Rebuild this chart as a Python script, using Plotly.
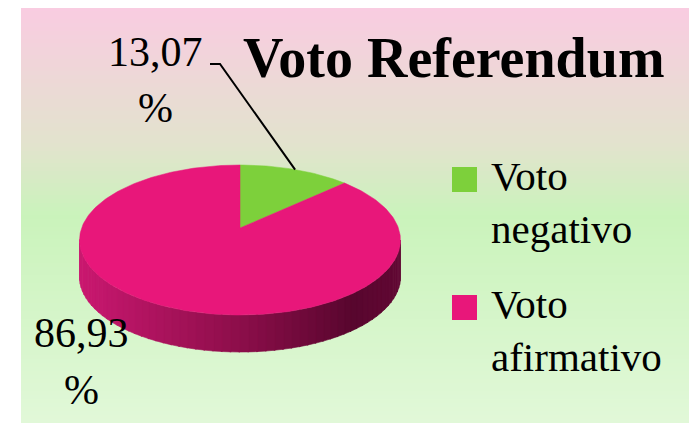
import math
import plotly.graph_objects as go

# ---- data ----
categories = ["Voto negativo", "Voto afirmativo"]
values = [13.07, 86.93]
colors = ["#7DD03B", "#E8177A"]
title_text = "Voto Referendum"

W, H_PX = 697, 423
OFF = 8  # page body margin
FONT = "'Liberation Serif', 'Times New Roman', Times, serif"

# pie geometry (pixels) with simple perspective
CX, CY = 240.0, 228.0
R, HH, K = 158.4, 73.1, 0.16
DEPTH = 37.0


def proj(deg, drop=0.0):
    t = math.radians(deg)
    s = 1.0 / (1.0 + K * math.cos(t))
    return CX + R * math.sin(t) * s, CY - HH * math.cos(t) * s + drop


def lerp_color(stops, t):
    t = max(0.0, min(1.0, t))
    for (t0, c0), (t1, c1) in zip(stops, stops[1:]):
        if t <= t1:
            f = (t - t0) / (t1 - t0) if t1 > t0 else 0
            c = [round(a + (b - a) * f) for a, b in zip(c0, c1)]
            return "rgb(%d,%d,%d)" % tuple(c)
    return "rgb(%d,%d,%d)" % tuple(stops[-1][1])


fig = go.Figure()

total = sum(values)
angles = []
acc = 0.0
for v in values:
    a0 = acc / total * 360
    acc += v
    a1 = acc / total * 360
    angles.append((a0, a1))

# side wall (front half visible)
side_stops = [(0.0, (202, 24, 112)), (0.5, (140, 14, 74)), (0.85, (88, 6, 46)), (1.0, (98, 8, 52))]
a_start = math.degrees(math.acos(-K))
a_end = 360 - a_start
n = 60
xl, _ = proj(a_end)
xr, _ = proj(a_start)
for i in range(n):
    b0 = a_start + (a_end - a_start) * i / n
    b1 = a_start + (a_end - a_start) * (i + 1) / n + 0.4
    pts = [proj(b0), proj(b1), proj(b1, DEPTH), proj(b0, DEPTH)]
    xm = sum(p[0] for p in pts) / 4
    col = lerp_color(side_stops, (xm - xl) / (xr - xl))
    fig.add_trace(go.Scatter(
        x=[p[0] for p in pts] + [pts[0][0]], y=[p[1] for p in pts] + [pts[0][1]],
        mode="lines", fill="toself", fillcolor=col, line=dict(width=0.6, color=col),
        hoverinfo="skip", showlegend=False))

# top faces
for (a0, a1), c, name in zip(angles, colors, categories):
    steps = max(2, int((a1 - a0) / 1.0))
    xs, ys = [CX], [CY]
    for j in range(steps + 1):
        px, py = proj(a0 + (a1 - a0) * j / steps)
        xs.append(px)
        ys.append(py)
    xs.append(CX)
    ys.append(CY)
    fig.add_trace(go.Scatter(x=xs, y=ys, mode="lines", fill="toself", fillcolor=c,
                             line=dict(width=0.5, color=c), name=name,
                             hoverinfo="name", showlegend=False))

shapes = []
# background gradient
bg_stops = [(0.0, (249, 204, 225)), (0.33, (226, 227, 205)), (0.5, (202, 243, 187)), (1.0, (225, 248, 216))]
top, bot = 7, 423
nb = 104
for i in range(nb):
    y0 = top + (bot - top) * i / nb
    y1 = top + (bot - top) * (i + 1) / nb + 0.5
    shapes.append(dict(type="rect", xref="x", yref="y", x0=21, x1=697, y0=y0, y1=y1,
                       fillcolor=lerp_color(bg_stops, i / (nb - 1)), line=dict(width=0),
                       layer="below"))

# leader line for first slice
mx, my = proj((angles[0][0] + angles[0][1]) / 2)
shapes.append(dict(type="path", xref="x", yref="y",
                   path="M 210,64 L 220,64 L %.1f,%.1f" % (mx, my),
                   line=dict(color="black", width=2)))

annotations = []
annotations.append(dict(x=241, y=58, xref="x", yref="y", text="<b>%s</b>" % title_text,
                        showarrow=False, xanchor="left", yanchor="middle",
                        font=dict(family=FONT, size=56, color="black")))

label_pos = [(155, 52, 108), (81, 333, 390)]
for v, (lx, ly1, ly2) in zip(values, label_pos):
    txt = ("%.2f" % v).replace(".", ",")
    annotations.append(dict(x=lx, y=ly1, xref="x", yref="y", text=txt, showarrow=False,
                            xanchor="center", yanchor="middle",
                            font=dict(family=FONT, size=42, color="black")))
    annotations.append(dict(x=lx, y=ly2, xref="x", yref="y", text="%", showarrow=False,
                            xanchor="center", yanchor="middle",
                            font=dict(family=FONT, size=42, color="black")))

# legend
leg_tops = [167, 295]
for c, name, ty in zip(colors, categories, leg_tops):
    shapes.append(dict(type="rect", xref="x", yref="y", x0=452, x1=477, y0=ty, y1=ty + 25,
                       fillcolor=c, line=dict(width=0)))
    annotations.append(dict(x=489, y=ty - 16, xref="x", yref="y", text=name.replace(" ", "<br>"),
                            showarrow=False, xanchor="left", yanchor="top", align="left",
                            font=dict(family=FONT, size=41, color="black")))

fig.update_layout(
    width=W - OFF, height=H_PX - OFF, margin=dict(l=0, r=0, t=0, b=0),
    paper_bgcolor="white", plot_bgcolor="rgba(0,0,0,0)",
    xaxis=dict(range=[OFF, W], visible=False, fixedrange=True),
    yaxis=dict(range=[H_PX, OFF], visible=False, fixedrange=True),
    shapes=shapes, annotations=annotations, showlegend=False,
)

fig.write_html("out.html")
